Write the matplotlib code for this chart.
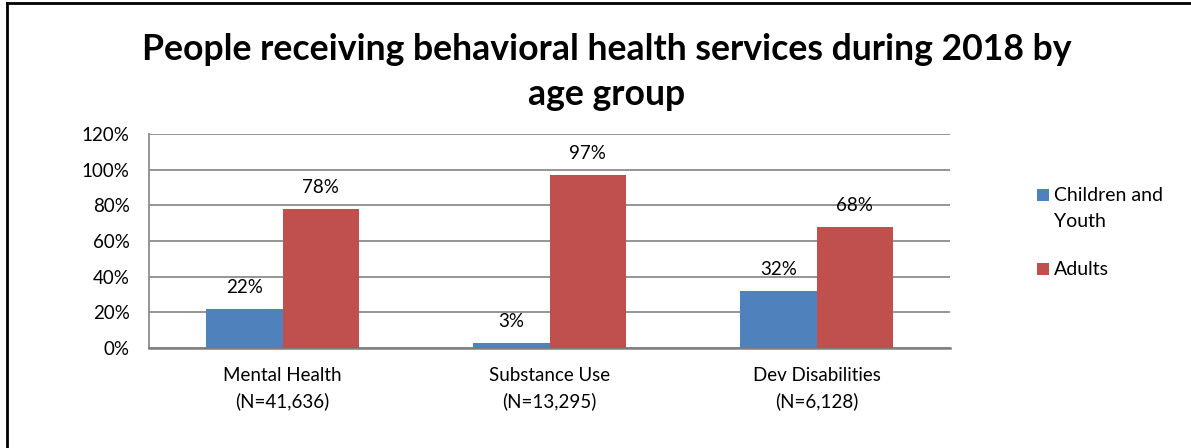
import matplotlib
matplotlib.use("Agg")
import matplotlib.pyplot as plt
from matplotlib.patches import Rectangle
from matplotlib.lines import Line2D
import numpy as np

categories = ["Mental Health\n(N=41,636)", "Substance Use\n(N=13,295)", "Dev Disabilities\n(N=6,128)"]
series_names = ["Children and\nYouth", "Adults"]
children = [22, 3, 32]
adults = [78, 97, 68]
yticks = [0, 20, 40, 60, 80, 100, 120]
title = "People receiving behavioral health services during 2018 by\nage group"

plt.rcParams['font.family'] = ['Lato', 'DejaVu Sans']

W, H = 1191, 448
fig = plt.figure(figsize=(W / 100, H / 100), dpi=100)

ax = fig.add_axes([149 / W, 1 - 348 / H, (950 - 149) / W, (348 - 134) / H])

x = np.arange(len(categories))
bw = 0.285
c_blue = "#4F81BD"
c_red = "#C0504D"
b1 = ax.bar(x - bw / 2, children, bw, color=c_blue, zorder=3)
b2 = ax.bar(x + bw / 2, adults, bw, color=c_red, zorder=3)

for rects, vals in ((b1, children), (b2, adults)):
    for r, v in zip(rects, vals):
        ax.annotate(f"{v}%", (r.get_x() + r.get_width() / 2, v), xytext=(0, 15.5),
                    textcoords="offset points", ha="center", va="center", fontsize=13.5)

ax.set_xlim(-0.5, 2.5)
ax.set_ylim(0, 120)
ax.set_yticks(yticks)
ax.set_yticklabels([f"{t}%" for t in yticks], fontsize=13.5)
ax.set_xticks(x)
ax.set_xticklabels(categories, fontsize=13.5, linespacing=1.5)
ax.tick_params(axis="both", length=0)
ax.tick_params(axis="y", pad=14)
ax.tick_params(axis="x", pad=14)
ax.yaxis.grid(True, color="#8C8C8C", linewidth=1.3, zorder=0)
ax.set_axisbelow(True)
for s in ("top", "right"):
    ax.spines[s].set_visible(False)
ax.spines["left"].set_color("#8C8C8C")
ax.spines["left"].set_linewidth(1.3)
ax.spines["bottom"].set_color("#7F7F7F")
ax.spines["bottom"].set_linewidth(1.8)

fig.text(607 / W, 1 - 72 / H, title, ha="center", va="center", fontsize=25.7,
         fontweight="bold", linespacing=1.42)

# legend (swatch aligned with first line of each label)
leg_colors = [c_blue, c_red]
leg_baselines = [201, 275]
line_gap = 26
for name, col, yb in zip(series_names, leg_colors, leg_baselines):
    fig.add_artist(Rectangle((1037 / W, 1 - yb / H), 12 / W, 12 / H,
                             transform=fig.transFigure, facecolor=col, edgecolor="none"))
    for k, line in enumerate(name.split("\n")):
        fig.text(1054 / W, 1 - (yb + k * line_gap) / H, line, ha="left",
                 va="baseline", fontsize=14)

# outer frame (top and left edges visible)
fig.add_artist(Line2D([7 / W, 7 / W], [0, 1 - 3.5 / H], transform=fig.transFigure,
                      color="black", linewidth=2))
fig.add_artist(Line2D([7 / W, 1], [1 - 3.5 / H, 1 - 3.5 / H], transform=fig.transFigure,
                      color="black", linewidth=2))

fig.savefig("out.png", dpi=100)
